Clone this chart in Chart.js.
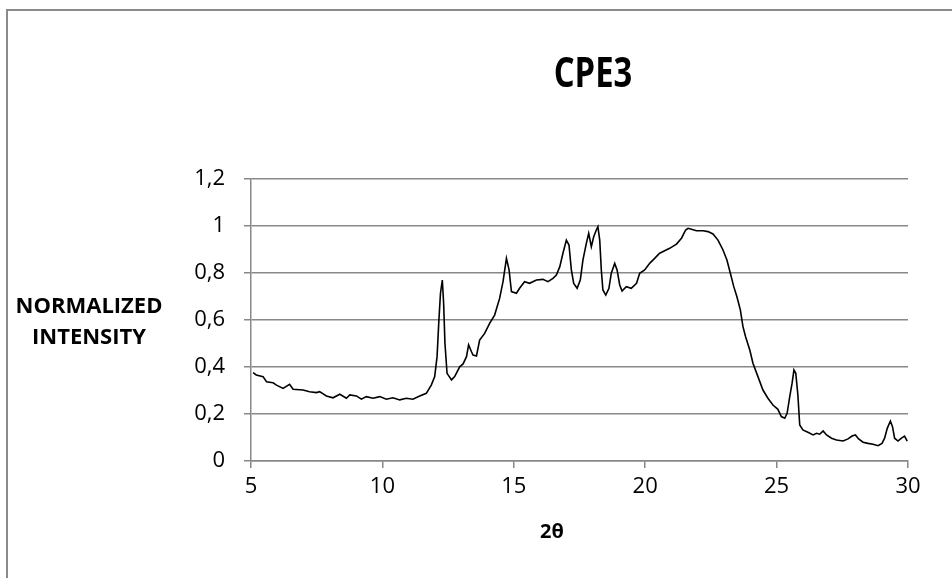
<!DOCTYPE html>
<html>
<head>
<meta charset="utf-8">
<title>CPE3</title>
<script src="https://cdn.jsdelivr.net/npm/chart.js@4/dist/chart.umd.min.js"></script>
<style>
    html, body { margin: 0; padding: 0; background: #fff; overflow: hidden; }
    #frame {
        position: absolute; left: 6px; top: 9px;
        width: 980px; height: 600px;
        border: 2px solid #8a8a8a;
    }
    #wrap { position: absolute; left: 0; top: 0; width: 952px; height: 578px; }
</style>
</head>
<body>
<div id="frame"></div>
<div id="wrap"><canvas id="myChart" width="952" height="578"></canvas></div>
<script>
// diffraction scan, 2θ in degrees and normalized intensity
const twoTheta = [
    5.08, 5.2, 5.46, 5.59, 5.84, 5.97, 6.22, 6.47, 6.6, 6.98, 7.23, 7.49, 7.61, 7.87,
    8.12, 8.38, 8.63, 8.76, 9.01, 9.2, 9.39, 9.64, 9.9, 10.15, 10.4, 10.66, 10.91,
    11.16, 11.42, 11.67, 11.86, 11.99, 12.08, 12.15, 12.21, 12.28, 12.33, 12.38,
    12.46, 12.63, 12.75, 12.94, 13.07, 13.2, 13.28, 13.39, 13.45, 13.58, 13.7, 13.89,
    14.08, 14.27, 14.46, 14.59, 14.72, 14.82, 14.91, 15.1, 15.22, 15.41, 15.6, 15.86,
    16.11, 16.3, 16.49, 16.62, 16.75, 16.87, 17.0, 17.1, 17.19, 17.28, 17.41, 17.53,
    17.63, 17.76, 17.85, 17.95, 18.04, 18.14, 18.2, 18.27, 18.33, 18.39, 18.5, 18.62,
    18.71, 18.84, 18.93, 19.03, 19.12, 19.28, 19.47, 19.67, 19.79, 19.98, 20.17,
    20.36, 20.55, 20.74, 20.93, 21.19, 21.38, 21.54, 21.63, 21.76, 21.95, 22.2, 22.39,
    22.58, 22.77, 22.96, 23.11, 23.24, 23.37, 23.49, 23.62, 23.72, 23.82, 23.98,
    24.1, 24.29, 24.48, 24.67, 24.86, 25.05, 25.18, 25.31, 25.4, 25.5, 25.59, 25.66,
    25.73, 25.81, 25.88, 26.0, 26.19, 26.39, 26.52, 26.64, 26.77, 26.9, 27.09, 27.28,
    27.53, 27.72, 27.87, 28.0, 28.12, 28.29, 28.48, 28.67, 28.86, 29.01, 29.11,
    29.21, 29.33, 29.41, 29.49, 29.62, 29.75, 29.87, 29.97
]
const intensity = [
    0.376, 0.366, 0.359, 0.337, 0.333, 0.323, 0.309, 0.326, 0.305, 0.302, 0.295, 0.291,
    0.295, 0.277, 0.269, 0.284, 0.267, 0.281, 0.277, 0.263, 0.274, 0.267, 0.274,
    0.263, 0.269, 0.26, 0.267, 0.263, 0.277, 0.288, 0.323, 0.359, 0.444, 0.6, 0.714,
    0.77, 0.671, 0.501, 0.373, 0.345, 0.359, 0.401, 0.413, 0.444, 0.494, 0.465,
    0.451, 0.447, 0.515, 0.543, 0.586, 0.621, 0.692, 0.763, 0.862, 0.813, 0.721,
    0.714, 0.735, 0.763, 0.756, 0.77, 0.773, 0.763, 0.777, 0.791, 0.827, 0.884, 0.94,
    0.919, 0.813, 0.756, 0.735, 0.77, 0.855, 0.926, 0.969, 0.912, 0.954, 0.983, 0.997,
    0.94, 0.813, 0.728, 0.706, 0.735, 0.799, 0.841, 0.813, 0.749, 0.723, 0.742, 0.735,
    0.756, 0.799, 0.813, 0.841, 0.862, 0.884, 0.895, 0.905, 0.923, 0.948, 0.983, 0.99,
    0.986, 0.98, 0.98, 0.976, 0.966, 0.94, 0.898, 0.855, 0.799, 0.742, 0.699, 0.643,
    0.572, 0.529, 0.472, 0.416, 0.359, 0.302, 0.267, 0.238, 0.22, 0.189, 0.182, 0.203,
    0.274, 0.331, 0.387, 0.373, 0.281, 0.153, 0.132, 0.122, 0.111, 0.118, 0.114, 0.128,
    0.111, 0.097, 0.089, 0.085, 0.094, 0.106, 0.111, 0.094, 0.08, 0.075, 0.071, 0.065,
    0.075, 0.097, 0.139, 0.17, 0.146, 0.097, 0.085, 0.097, 0.106, 0.085
]

const xTickValues = [5, 10, 15, 20, 25, 30]
const xTickLabels = ['5', '10', '15', '20', '25', '30']
const yTickValues = [0, 0.2, 0.4, 0.6, 0.8, 1, 1.2]
const yTickLabels = ['0', '0,2', '0,4', '0,6', '0,8', '1', '1,2']

const chartTitle = 'CPE3'
const yTitleLines = ['NORMALIZED', 'INTENSITY']
const xTitle = '2θ'

const gridColor = '#888888'
const tickFont = { family: "'Open Sans', sans-serif", size: 22 }

// title and the two axis captions are placed by hand, Excel style
const captions = {
    id: 'captions',
    afterDraw(chart) {
        const ctx = chart.ctx
        ctx.save()
        ctx.fillStyle = '#000'
        ctx.textAlign = 'center'
        ctx.textBaseline = 'middle'

        // narrow the bold title a bit, like Calibri
        ctx.save()
        ctx.translate(593, 75)
        ctx.scale(0.8, 1)
        ctx.font = "bold 41px 'Open Sans', sans-serif"
        ctx.fillText(chartTitle, 0, 0)
        ctx.restore()

        ctx.font = "bold 22px 'Open Sans', sans-serif"
        ctx.fillText(yTitleLines[0], 89, 307)
        ctx.fillText(yTitleLines[1], 89, 338)

        ctx.font = "bold 20px 'Open Sans', sans-serif"
        ctx.fillText(xTitle, 552, 532)
        ctx.restore()
    }
}

new Chart(document.getElementById('myChart'), {
    type: 'line',
    data: {
        datasets: [
            {
                label: chartTitle,
                data: twoTheta.map((x, i) => ({ x: x, y: intensity[i] })),
                borderColor: '#000',
                borderWidth: 1.6,
                pointRadius: 0,
                tension: 0,
                fill: false
            }
        ]
    },
    options: {
        responsive: false,
        animation: false,
        events: [],
        layout: {
            padding: { left: 0, top: 179, right: 44, bottom: 0 }
        },
        plugins: {
            legend: { display: false },
            title: { display: false },
            tooltip: { enabled: false }
        },
        scales: {
            x: {
                type: 'linear',
                min: 5,
                max: 30,
                afterBuildTicks: (scale) => {
                    scale.ticks = xTickValues.map(v => ({ value: v }))
                },
                afterFit: (scale) => { scale.height = 117 },
                ticks: {
                    color: '#000',
                    font: tickFont,
                    padding: 6,
                    maxRotation: 0,
                    callback: (v, i) => xTickLabels[i]
                },
                grid: {
                    drawOnChartArea: false,
                    drawTicks: true,
                    tickLength: 7,
                    color: gridColor,
                    lineWidth: 1.5
                },
                border: { display: true, color: gridColor, width: 1.5 }
            },
            y: {
                type: 'linear',
                min: 0,
                max: 1.2,
                afterBuildTicks: (scale) => {
                    scale.ticks = yTickValues.map(v => ({ value: v }))
                },
                afterFit: (scale) => { scale.width = 251 },
                ticks: {
                    color: '#000',
                    font: tickFont,
                    padding: 19,
                    callback: (v, i) => yTickLabels[i]
                },
                grid: {
                    drawOnChartArea: true,
                    drawTicks: true,
                    tickLength: 7,
                    color: gridColor,
                    lineWidth: 1.5
                },
                border: { display: true, color: gridColor, width: 1.5 }
            }
        }
    },
    plugins: [captions]
})
</script>
</body>
</html>
